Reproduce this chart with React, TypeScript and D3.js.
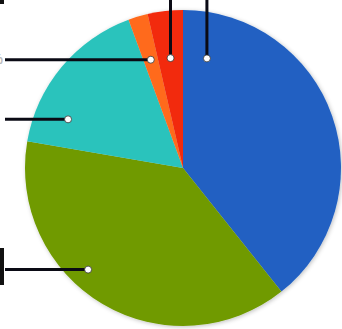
import React from "react";
import * as d3 from "d3";

const categories = ["Blue", "Green", "Teal", "Orange", "Red"];
const values = [39.3, 38.4, 16.7, 2.0, 3.6];
const colors = ["#2161c2", "#6f9a02", "#2cc3bc", "#ff6a1a", "#f22a0c"];
// leader anchor: fraction along slice angle, fraction of radius, direction
const anchorAngleFrac = [0.087, 0.59, 0.22, 0.5, 0.5];
const anchorRadiusFrac = [0.71, 0.88, 0.79, 0.715, 0.70];
const leaderDir = ["up", "left", "left", "left", "up"];
const labels = ["39.3%", "38.4%", "16.7%", "2.0%", "3.6%"];

const W = 342, H = 329;
const cx = 183, cy = 168, R = 158;

export default function App() {
  const pie = d3.pie<number>().sort(null).startAngle(0).endAngle(2 * Math.PI);
  const arcs = pie(values);
  const arc = d3.arc<d3.PieArcDatum<number>>().innerRadius(0).outerRadius(R);

  const anchors = arcs.map((a, i) => {
    const ang = a.startAngle + (a.endAngle - a.startAngle) * anchorAngleFrac[i];
    const r = R * anchorRadiusFrac[i];
    return { x: cx + r * Math.sin(ang), y: cy - r * Math.cos(ang) };
  });

  return (
    <svg width={W} height={H} style={{ position: "absolute", left: 0, top: 0, background: "#fff" }}>
      <defs>
        <filter id="sh" x="-10%" y="-10%" width="120%" height="120%">
          <feGaussianBlur in="SourceAlpha" stdDeviation="2" />
          <feOffset dx="1" dy="1" result="b" />
          <feFlood floodColor="#000" floodOpacity="0.25" />
          <feComposite in2="b" operator="in" />
          <feMerge>
            <feMergeNode />
            <feMergeNode in="SourceGraphic" />
          </feMerge>
        </filter>
      </defs>
      <g transform={`translate(${cx},${cy})`} filter="url(#sh)">
        {arcs.map((a, i) => (
          <path key={categories[i]} d={arc(a) || ""} fill={colors[i]} />
        ))}
      </g>
      {anchors.map((p, i) => {
        const up = leaderDir[i] === "up";
        const x2 = up ? p.x : 5;
        const y2 = up ? 0 : p.y;
        return (
          <g key={"l" + i}>
            <line x1={p.x} y1={p.y} x2={x2} y2={y2} stroke="#0a0a14" strokeWidth={3} />
            <circle cx={p.x} cy={p.y} r={3.5} fill="#fff" stroke="#333" strokeWidth={0.8} />
          </g>
        );
      })}
      {/* labels, mostly outside the visible frame */}
      <g fontFamily="Liberation Sans, Arial, sans-serif" fontSize={14} fontWeight="bold">
        <rect x={-60} y={-20} width={64} height={24} fill="#111" />
        <text x={-28} y={-4} textAnchor="middle" fill="#fff">{labels[0]}</text>
        <text x={3} y={anchors[3].y + 4} textAnchor="end" fill="#bbb">{labels[3]}</text>
        <text x={-2} y={anchors[2].y + 4} textAnchor="end" fill="#111">{labels[2]}</text>
        <rect x={-60} y={248} width={64} height={37} fill="#111" />
        <text x={-28} y={271} textAnchor="middle" fill="#fff">{labels[1]}</text>
      </g>
    </svg>
  );
}
